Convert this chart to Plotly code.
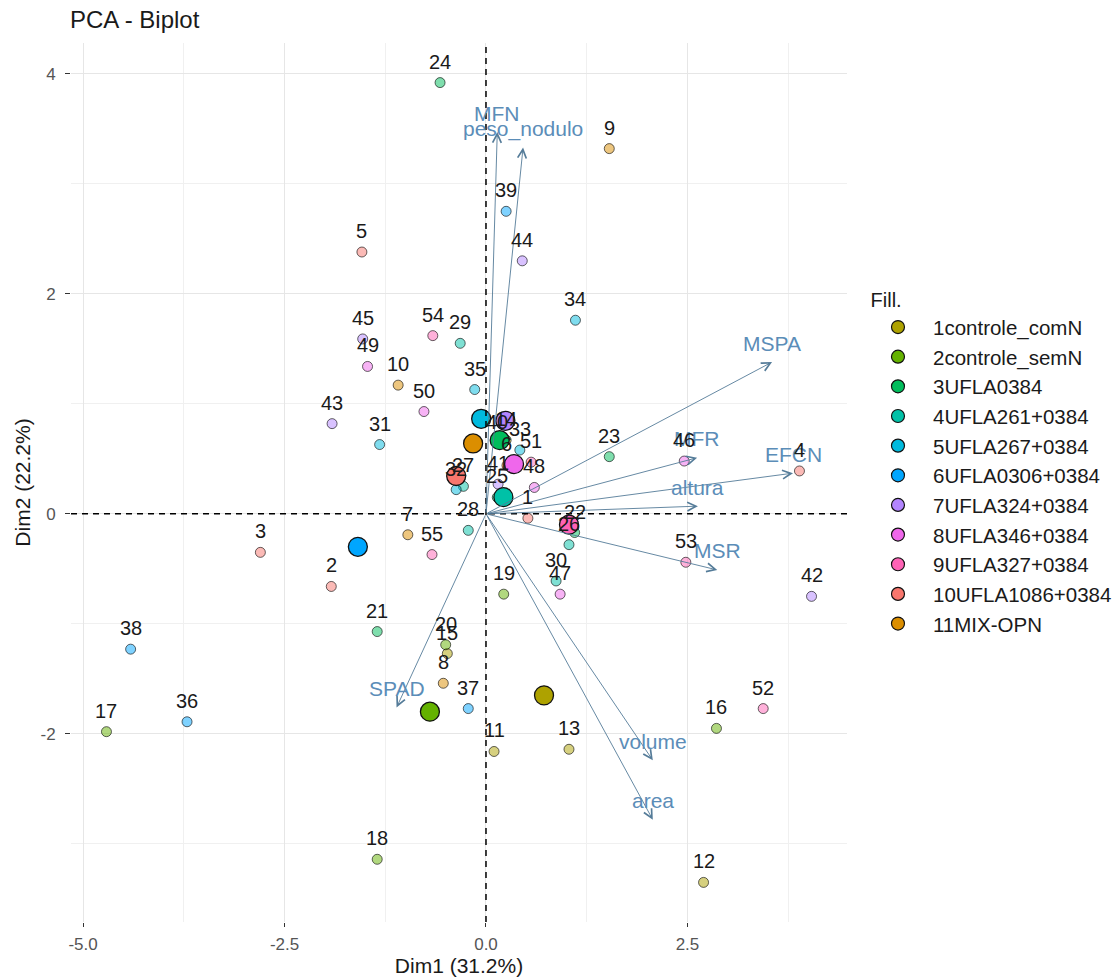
import numpy as np
import plotly.graph_objects as go

# ---------------- data ----------------
ind_id = list(range(1, 56))
dim1 = [0.52, -1.92, -2.80, 3.89, -1.54,
        0.26, -0.97, -0.53, 1.53, -1.09,
        0.10, 2.70, 1.03, 0.25, -0.48,
        2.86, -4.71, -1.35, 0.22, -0.50,
        -1.35, 1.10, 1.53, -0.57, 0.14,
        1.03, -0.28, -0.22, -0.32, 0.87,
        -1.32, -0.37, 0.42, 1.11, -0.14,
        -3.71, -0.22, -4.41, 0.25, 0.14,
        0.15, 4.04, -1.91, 0.45, -1.53,
        2.46, 0.92, 0.60, -1.47, -0.77,
        0.56, 3.44, 2.48, -0.66, -0.67]
dim2 = [-0.04, -0.66, -0.35, 0.39, 2.38,
        0.44, -0.19, -1.54, 3.32, 1.17,
        -2.16, -3.35, -2.14, 0.67, -1.27,
        -1.95, -1.98, -3.14, -0.73, -1.19,
        -1.07, -0.17, 0.52, 3.92, 0.15,
        -0.28, 0.25, -0.15, 1.55, -0.61,
        0.63, 0.22, 0.58, 1.76, 1.13,
        -1.89, -1.77, -1.23, 2.75, 0.64,
        0.27, -0.75, 0.82, 2.30, 1.59,
        0.48, -0.73, 0.24, 1.34, 0.93,
        0.47, -1.77, -0.44, 1.62, -0.37]
ind_group = (["10UFLA1086+0384"] * 5 + ["11MIX-OPN"] * 5 + ["1controle_comN"] * 5 +
             ["2controle_semN"] * 5 + ["3UFLA0384"] * 5 + ["4UFLA261+0384"] * 5 +
             ["5UFLA267+0384"] * 5 + ["6UFLA0306+0384"] * 5 + ["7UFLA324+0384"] * 5 +
             ["8UFLA346+0384"] * 5 + ["9UFLA327+0384"] * 5)

legend_order = ["1controle_comN", "2controle_semN", "3UFLA0384", "4UFLA261+0384",
                "5UFLA267+0384", "6UFLA0306+0384", "7UFLA324+0384", "8UFLA346+0384",
                "9UFLA327+0384", "10UFLA1086+0384", "11MIX-OPN"]
group_colors = {
    "10UFLA1086+0384": "#F8766D",
    "11MIX-OPN": "#DB8E00",
    "1controle_comN": "#AEA200",
    "2controle_semN": "#64B200",
    "3UFLA0384": "#00BD5C",
    "4UFLA261+0384": "#00C1A7",
    "5UFLA267+0384": "#00BADE",
    "6UFLA0306+0384": "#00A6FF",
    "7UFLA324+0384": "#B385FF",
    "8UFLA346+0384": "#EF67EB",
    "9UFLA327+0384": "#FF63B6",
}

var_names = ["MFN", "peso_nodulo", "MSPA", "MFR", "EFCN", "altura", "MSR", "volume", "area", "SPAD"]
var_x = [0.14, 0.46, 3.55, 2.62, 3.81, 2.63, 2.87, 2.07, 2.07, -1.11]
var_y = [3.47, 3.33, 1.38, 0.51, 0.37, 0.07, -0.51, -2.24, -2.78, -1.76]

x_ticks = [-5.0, -2.5, 0.0, 2.5]
x_ticklabels = ["-5.0", "-2.5", "0.0", "2.5"]
y_ticks = [-2, 0, 2, 4]
y_ticklabels = ["-2", "0", "2", "4"]

FONT = "Liberation Sans, Arial, sans-serif"
VARCOL = "#5B8DB8"
ARROWCOL = "#557C99"


def rgba(hexcol, a):
    h = hexcol.lstrip("#")
    r, g, b = int(h[0:2], 16), int(h[2:4], 16), int(h[4:6], 16)
    return f"rgba({r},{g},{b},{a})"


fig = go.Figure()

d1 = np.array(dim1)
d2 = np.array(dim2)
grp = np.array(ind_group)

# individual points
for g in legend_order:
    m = grp == g
    fig.add_trace(go.Scatter(
        x=d1[m], y=d2[m], mode="markers", showlegend=False, hoverinfo="skip",
        marker=dict(size=10, color=rgba(group_colors[g], 0.5),
                    line=dict(color="rgba(0,0,0,0.6)", width=1)),
    ))

# group mean points
for g in legend_order:
    m = grp == g
    fig.add_trace(go.Scatter(
        x=[d1[m].mean()], y=[d2[m].mean()], mode="markers", showlegend=False,
        marker=dict(size=19, color=group_colors[g], line=dict(color="#111", width=1.3)),
    ))

# legend entries
for g in legend_order:
    fig.add_trace(go.Scatter(
        x=[None], y=[None], mode="markers", name=g,
        marker=dict(size=13, color=group_colors[g], line=dict(color="#111", width=1.2)),
    ))

annotations = []
# variable arrows
for name, vx, vy in zip(var_names, var_x, var_y):
    annotations.append(dict(
        x=vx, y=vy, xref="x", yref="y", ax=0, ay=0, axref="x", ayref="y",
        text="", showarrow=True, arrowhead=5, arrowsize=1.9, arrowwidth=0.9,
        arrowcolor=ARROWCOL, standoff=0, startstandoff=0,
    ))
for name, vx, vy in zip(var_names, var_x, var_y):
    annotations.append(dict(
        x=vx, y=vy, xref="x", yref="y", text=name, showarrow=False, yshift=19,
        font=dict(family=FONT, size=21, color=VARCOL),
    ))
# individual labels
for i, x, y in zip(ind_id, dim1, dim2):
    annotations.append(dict(
        x=x, y=y, xref="x", yref="y", text=str(i), showarrow=False, yshift=21,
        font=dict(family=FONT, size=20, color="#1a1a1a"),
    ))

shapes = [
    dict(type="line", xref="x", yref="paper", x0=0, x1=0, y0=0, y1=1,
         line=dict(color="black", width=1.5, dash="6px,5px"), layer="above"),
    dict(type="line", xref="paper", yref="y", x0=0, x1=1, y0=0, y1=0,
         line=dict(color="black", width=1.5, dash="6px,5px"), layer="above"),
]

fig.update_layout(
    width=1115, height=978,
    margin=dict(l=71, r=268, t=43, b=56, autoexpand=False),
    paper_bgcolor="white", plot_bgcolor="white",
    font=dict(family=FONT, color="#1a1a1a"),
    title=dict(text="PCA - Biplot", x=70 / 1115, xref="container", xanchor="left",
               y=1 - 20 / 978, yref="container", yanchor="middle", automargin=False,
               font=dict(family=FONT, size=24, color="#1a1a1a")),
    xaxis=dict(range=[-5.15, 4.48], tickvals=x_ticks, ticktext=x_ticklabels,
               automargin=False,
               showgrid=True, gridcolor="#E6E6E6", gridwidth=1, zeroline=False,
               ticks="outside", ticklen=4, tickcolor="#333", tickwidth=1.2,
               ticklabelstandoff=3,
               tickfont=dict(family=FONT, size=17, color="#555"),
               minor=dict(dtick=1.25, tick0=0, showgrid=True, gridcolor="#F0F0F0", gridwidth=0.8),
               title=dict(text="Dim1 (31.2%)", standoff=2,
                          font=dict(family=FONT, size=21, color="#1a1a1a")),
               showline=False),
    yaxis=dict(range=[-3.71, 4.28], tickvals=y_ticks, ticktext=y_ticklabels,
               automargin=False,
               showgrid=True, gridcolor="#E6E6E6", gridwidth=1, zeroline=False,
               ticks="outside", ticklen=5, tickcolor="#333", tickwidth=1.2,
               ticklabelstandoff=6,
               tickfont=dict(family=FONT, size=17, color="#555"),
               minor=dict(dtick=1, tick0=0, showgrid=True, gridcolor="#F0F0F0", gridwidth=0.8),
               title=dict(text="Dim2 (22.2%)", standoff=4,
                          font=dict(family=FONT, size=21, color="#1a1a1a")),
               showline=False),
    legend=dict(x=1.0206, xanchor="left", y=0.729, yanchor="top",
                title=dict(text="&nbsp;Fill.", font=dict(family=FONT, size=20, color="#1a1a1a")),
                font=dict(family=FONT, size=20.5, color="#1a1a1a"),
                itemwidth=60,
                bgcolor="rgba(0,0,0,0)"),
    annotations=annotations,
    shapes=shapes,
)

fig.write_html("out.html", config={"displayModeBar": False},
               post_script="document.body.style.margin='0';")
